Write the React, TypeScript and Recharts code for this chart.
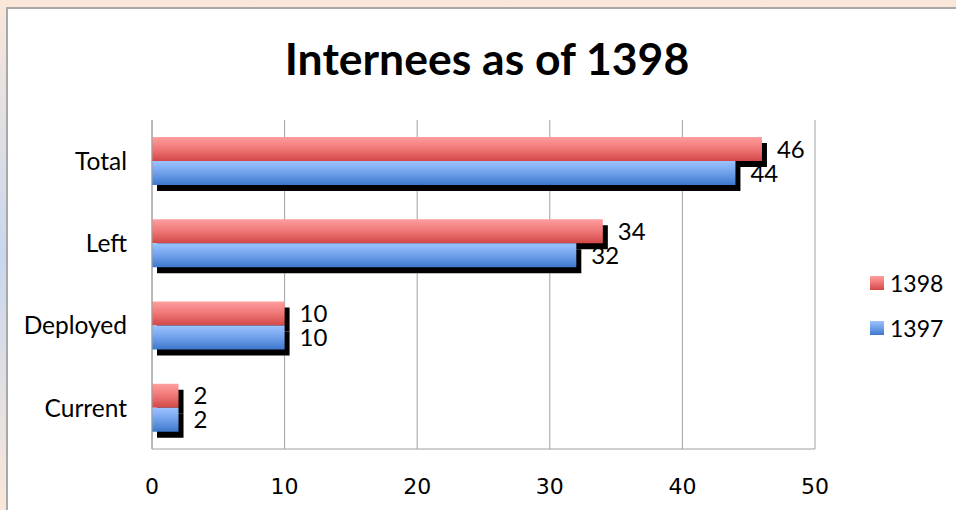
import React from 'react';
import { BarChart, Bar, XAxis, YAxis, CartesianGrid, Legend, LabelList } from 'recharts';

const categories = ['Total', 'Left', 'Deployed', 'Current'];
const values1398 = [46, 34, 10, 2];
const values1397 = [44, 32, 10, 2];
const xTicks = [0, 10, 20, 30, 40, 50];

const chartData = categories.map((name, i) => ({
  name,
  y1398: values1398[i],
  y1397: values1397[i]
}));

const SERIES = [
  { key: 'y1398', label: '1398', grad: 'gradRed' },
  { key: 'y1397', label: '1397', grad: 'gradBlue' }
];

// bar with the hard black offset shadow Excel draws
const ShadowBar = (props: any) => {
  const { x, y, width, height, gradId } = props;
  if (!width || width <= 0) return null;
  return (
    <g>
      <rect x={x + 5} y={y + 6} width={width} height={height} fill="#000" />
      <rect x={x} y={y} width={width} height={height} fill={`url(#${gradId})`} />
    </g>
  );
};

const LegendBox = () => (
  <div style={{ fontFamily: 'Lato', fontSize: 23, color: '#000' }}>
    {SERIES.map((s, i) => (
      <div key={s.key} style={{ display: 'flex', alignItems: 'center', height: 45, paddingLeft: 55 }}>
        <div
          style={{
            width: 14,
            height: 14,
            flexShrink: 0,
            marginRight: 6,
            background:
              i === 0
                ? 'linear-gradient(#ff9e9e, #ef7474, #d24848)'
                : 'linear-gradient(#9dc3ff, #6f9ee8, #3d78cc)'
          }}
        />
        <span>{s.label}</span>
      </div>
    ))}
  </div>
);

const App: React.FC = () => {
  return (
    <div
      style={{
        position: 'absolute',
        left: 0,
        top: 0,
        width: 956,
        height: 510,
        overflow: 'hidden',
        background: 'linear-gradient(#fae7d9 0%, #c8d7ee 50%, #fae7d9 100%)'
      }}
    >
      <div
        style={{
          position: 'absolute',
          left: 6,
          top: 7,
          width: 980,
          height: 540,
          background: '#fff',
          borderLeft: '2px solid #a8a8a8',
          borderTop: '2px solid #a8a8a8'
        }}
      />
      <div
        style={{
          position: 'absolute',
          left: 0,
          width: 974,
          top: 31,
          textAlign: 'center',
          fontFamily: 'Lato',
          fontWeight: 'bold',
          fontSize: 44.5,
          lineHeight: 1.2,
          color: '#000'
        }}
      >
        Internees as of 1398
      </div>
      <div style={{ position: 'absolute', left: 0, top: 0 }}>
        <BarChart
          width={956}
          height={510}
          data={chartData}
          layout="vertical"
          margin={{ top: 120, right: 0, bottom: 21, left: 12 }}
          barGap={0}
        >
          <defs>
            <linearGradient id="gradRed" x1="0" y1="0" x2="0" y2="1">
              <stop offset="0%" stopColor="#ff9e9e" />
              <stop offset="50%" stopColor="#ef7676" />
              <stop offset="100%" stopColor="#d24747" />
            </linearGradient>
            <linearGradient id="gradBlue" x1="0" y1="0" x2="0" y2="1">
              <stop offset="0%" stopColor="#9dc3ff" />
              <stop offset="50%" stopColor="#70a0ea" />
              <stop offset="100%" stopColor="#3d78cc" />
            </linearGradient>
          </defs>
          <CartesianGrid horizontal={false} stroke="#a0a0a0" />
          <XAxis
            type="number"
            domain={[0, 50]}
            ticks={xTicks}
            height={40}
            tickLine={false}
            tickSize={0}
            tickMargin={29}
            axisLine={{ stroke: '#a0a0a0' }}
            tick={{ fill: '#000', fontSize: 22, fontFamily: 'DejaVu Sans' }}
          />
          <YAxis
            type="category"
            dataKey="name"
            width={140}
            tickLine={false}
            tickSize={0}
            tickMargin={25}
            axisLine={{ stroke: '#a0a0a0' }}
            tick={{ fill: '#000', fontSize: 24.5, fontFamily: 'Lato' }}
          />
          <Legend
            layout="vertical"
            align="right"
            verticalAlign="middle"
            width={141}
            content={<LegendBox />}
            wrapperStyle={{ top: 260, right: 0 }}
          />
          {SERIES.map(s => (
            <Bar
              key={s.key}
              dataKey={s.key}
              name={s.label}
              barSize={24}
              isAnimationActive={false}
              shape={(p: any) => <ShadowBar {...p} gradId={s.grad} />}
            >
              <LabelList
                dataKey={s.key}
                position="right"
                offset={15}
                fill="#000"
                fontSize={24}
                fontFamily="Lato"
              />
            </Bar>
          ))}
        </BarChart>
      </div>
    </div>
  );
};

export default App;
